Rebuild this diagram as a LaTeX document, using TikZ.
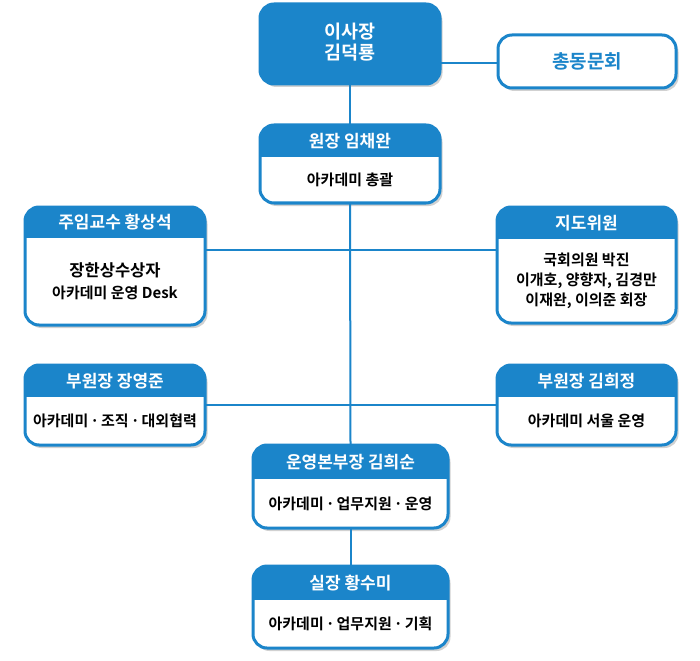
\documentclass[tikz,border=0pt]{standalone}
\usepackage{fontspec}
\setmainfont{Noto Sans CJK KR}
\newfontfamily\krb{Noto Sans CJK KR Bold}
\usetikzlibrary{fit}
\definecolor{cblue}{RGB}{27,133,202}
\tikzset{
  conn/.style={draw=cblue, line width=2pt},
  frame/.style={draw=cblue, line width=3pt, rounded corners=14pt},
  shade/.style={fill=black, opacity=0.18, rounded corners=14pt},
  headtxt/.style={text=white, font=\krb\fontsize{17}{20}\selectfont, inner sep=0pt},
  bodytxt/.style={text=black, font=\krb\fontsize{15}{20}\selectfont, align=center, inner sep=0pt},
}
\newcommand{\orgbox}[8]{%
  \path[shade] (#2+2.5,#3+3) rectangle (#4+2.5,#5+3);
  \begin{scope}
    \clip[rounded corners=14pt] (#2,#3) rectangle (#4,#5);
    \fill[white] (#2,#3) rectangle (#4,#5);
    \fill[cblue] (#2,#3) rectangle (#4,#6);
  \end{scope}
  \path[frame] (#2,#3) rectangle (#4,#5);
  \node[fit={(#2,#3) (#4,#5)}, inner sep=0pt] (#1) {};
  \node[headtxt] (#1-h) at ({(#2+#4)/2},{(#3+#6)/2}) {#7};
  \node[bodytxt] (#1-b) at ({(#2+#4)/2},{(#6+#5)/2}) {#8};
}
\newcommand{\md}{\hspace{2pt}·\hspace{2pt}}
\begin{document}
\begin{tikzpicture}[x=1pt,y=-1pt]
\useasboundingbox[fill=white] (0,0) rectangle (700,660);

% chairman
\path[shade] (262.5,7) rectangle (442.5,87);
\path[frame, fill=cblue] (260,4) rectangle (440,84);
\node[fit={(260,4) (440,84)}, inner sep=0pt] (chair) {};
\node[text=white, font=\krb\fontsize{18.5}{20.5}\selectfont, align=center] (chair-t) at (350,42) {이사장\\김덕룡};

% alumni
\path[shade] (500.5,38) rectangle (678.5,91);
\path[frame, fill=white] (498,35) rectangle (676,88);
\node[fit={(498,35) (676,88)}, inner sep=0pt] (alumni) {};
\node[text=cblue, font=\krb\fontsize{19}{20}\selectfont] (alumni-t) at (587,61.5) {총동문회};

\orgbox{dir}{260}{125}{440}{203}{157}{원장 임채완}{아카데미 총괄}
\orgbox{prof}{25}{207}{205}{325}{238}{주임교수 황상석}{{\fontsize{16.5}{20}\selectfont 장한상수상자}\\[1.5pt]아카데미 운영 Desk}
\orgbox{adv}{497}{207}{676}{323}{239}{지도위원}{국회의원 박진\\이개호, 양향자, 김경만\\이재완, 이의준 회장}
\orgbox{vp1}{25}{365}{205}{445}{397}{부원장 장영준}{아카데미\md 조직\md 대외협력}
\orgbox{vp2}{497}{365}{676}{445}{397}{부원장 김희정}{아카데미 서울 운영}
\orgbox{ops}{253}{445}{448}{528}{479}{운영본부장 김희순}{아카데미\md 업무지원\md 운영}
\orgbox{off}{253}{566}{448}{648}{600}{실장 황수미}{아카데미\md 업무지원\md 기획}

\coordinate (hA) at (350,250);
\coordinate (hB) at (350,63);

\draw[conn] (chair.south) -- (dir.north);
\draw[conn] (dir.south) -- (ops.north);
\draw[conn] (ops.south) -- (off.north);
\draw[conn] (hB -| chair.east) -- (hB -| alumni.west);
\draw[conn] (hA -| prof.east) -- (hA -| adv.west);
\draw[conn] (vp1.east) -- (vp2.west);
\end{tikzpicture}
\end{document}
